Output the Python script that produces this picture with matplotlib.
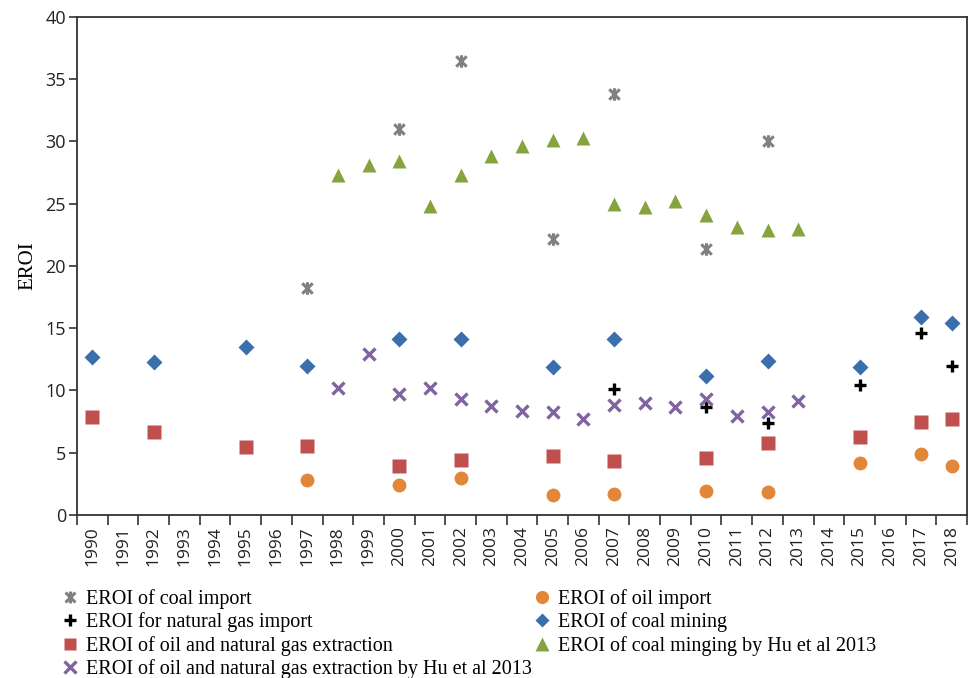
import numpy as np
import matplotlib
matplotlib.use("Agg")
import matplotlib.pyplot as plt
from matplotlib.path import Path

# Category axis: one slot per year
years = [str(y) for y in range(1990, 2019)]

coal_import_years = ["1997", "2000", "2002", "2005", "2007", "2010", "2012"]
coal_import_vals = [18.2, 31.0, 36.5, 22.2, 33.8, 21.4, 30.0]

oil_import_years = ["1997", "2000", "2002", "2005", "2007", "2010", "2012", "2015", "2017", "2018"]
oil_import_vals = [2.8, 2.4, 3.0, 1.6, 1.65, 1.95, 1.85, 4.2, 4.9, 3.9]

gas_import_years = ["2007", "2010", "2012", "2015", "2017", "2018"]
gas_import_vals = [10.1, 8.7, 7.35, 10.45, 14.6, 12.0]

coal_mining_years = ["1990", "1992", "1995", "1997", "2000", "2002", "2005", "2007",
                     "2010", "2012", "2015", "2017", "2018"]
coal_mining_vals = [12.7, 12.25, 13.5, 11.95, 14.1, 14.15, 11.85, 14.1,
                    11.15, 12.4, 11.9, 15.9, 15.45]

oilgas_ext_years = ["1990", "1992", "1995", "1997", "2000", "2002", "2005", "2007",
                    "2010", "2012", "2015", "2017", "2018"]
oilgas_ext_vals = [7.85, 6.7, 5.45, 5.55, 3.95, 4.45, 4.7, 4.35,
                   4.6, 5.8, 6.25, 7.5, 7.7]

hu_years = [str(y) for y in range(1998, 2014)]
coal_hu_vals = [27.3, 28.1, 28.4, 24.85, 27.3, 28.8, 29.65, 30.1,
                30.25, 25.0, 24.7, 25.25, 24.1, 23.15, 22.85, 23.0]
oilgas_hu_vals = [10.2, 12.9, 9.7, 10.2, 9.35, 8.75, 8.35, 8.25,
                  7.7, 8.85, 9.0, 8.7, 9.35, 7.95, 8.25, 9.15]

labels = {
    "coal_import": "EROI of coal import",
    "oil_import": "EROI of oil import",
    "gas_import": "EROI for natural gas import",
    "coal_mining": "EROI of coal mining",
    "oilgas_ext": "EROI of oil and natural gas extraction",
    "coal_hu": "EROI of coal minging by Hu et al 2013",
    "oilgas_hu": "EROI of oil and natural gas extraction by Hu et al 2013",
}

pos = {y: i for i, y in enumerate(years)}

def xs(yrs):
    return [pos[y] for y in yrs]

# Asterisk marker: an X with a vertical stroke
ast = Path([(-0.5, -0.5), (0.5, 0.5), (-0.5, 0.5), (0.5, -0.5), (0, -0.6), (0, 0.6)],
           [Path.MOVETO, Path.LINETO, Path.MOVETO, Path.LINETO, Path.MOVETO, Path.LINETO])

fig = plt.figure(figsize=(9.71, 6.78), dpi=100)
ax = fig.add_axes([0.0793, 0.2404, 0.9166, 0.7346])

h = {}
h["coal_import"], = ax.plot(xs(coal_import_years), coal_import_vals, ls="none", marker=ast,
                            ms=9, mew=2.2, color="#808080", mfc="none")
h["oil_import"], = ax.plot(xs(oil_import_years), oil_import_vals, ls="none", marker="o",
                           ms=10, color="#E2873A", mec="none")
h["gas_import"], = ax.plot(xs(gas_import_years), gas_import_vals, ls="none", marker="+",
                           ms=9, mew=2.4, color="black")
h["coal_mining"], = ax.plot(xs(coal_mining_years), coal_mining_vals, ls="none", marker="D",
                            ms=8, color="#3A6EAD", mec="none")
h["oilgas_ext"], = ax.plot(xs(oilgas_ext_years), oilgas_ext_vals, ls="none", marker="s",
                           ms=9.5, color="#C0504D", mec="none")
h["coal_hu"], = ax.plot(xs(hu_years), coal_hu_vals, ls="none", marker="^",
                        ms=10.5, color="#86A43E", mec="none")
h["oilgas_hu"], = ax.plot(xs(hu_years), oilgas_hu_vals, ls="none", marker="x",
                          ms=9, mew=2.4, color="#8064A2")

ax.set_xlim(-0.5, len(years) - 0.5)
ax.set_ylim(0, 40)
ax.set_yticks(np.arange(0, 41, 5))

tick_font = "Open Sans"
ax.set_xticks(np.arange(len(years)))
ax.set_xticklabels(years, rotation=90, fontsize=12.5, family=tick_font, color="#222222")
ax.set_xticks(np.arange(-0.5, len(years), 1.0), minor=True)
ax.tick_params(axis="x", which="major", length=0, pad=8)
ax.tick_params(axis="x", which="minor", length=7, width=1.2, color="#333333", direction="out")
ax.tick_params(axis="y", length=6, width=1.2, color="#333333", direction="out", pad=2)
for t in ax.get_yticklabels():
    t.set_fontfamily(tick_font)
    t.set_fontsize(13)
    t.set_color("#222222")

for s in ax.spines.values():
    s.set_color("#333333")
    s.set_linewidth(1.3)

ax.set_ylabel("EROI", family="Liberation Serif", fontsize=15, labelpad=6)

order = ["coal_import", "gas_import", "oilgas_ext", "oilgas_hu",
         "oil_import", "coal_mining", "coal_hu"]
fig.legend([h[k] for k in order], [labels[k] for k in order], ncol=2,
           loc="upper left", bbox_to_anchor=(0.064, 0.131), frameon=False,
           prop={"family": "Liberation Serif", "size": 14.5},
           handlelength=0.8, handletextpad=0.4, columnspacing=0.1,
           labelspacing=0.17, borderaxespad=0, borderpad=0, markerscale=0.95)

fig.savefig("out.png", dpi=100)
